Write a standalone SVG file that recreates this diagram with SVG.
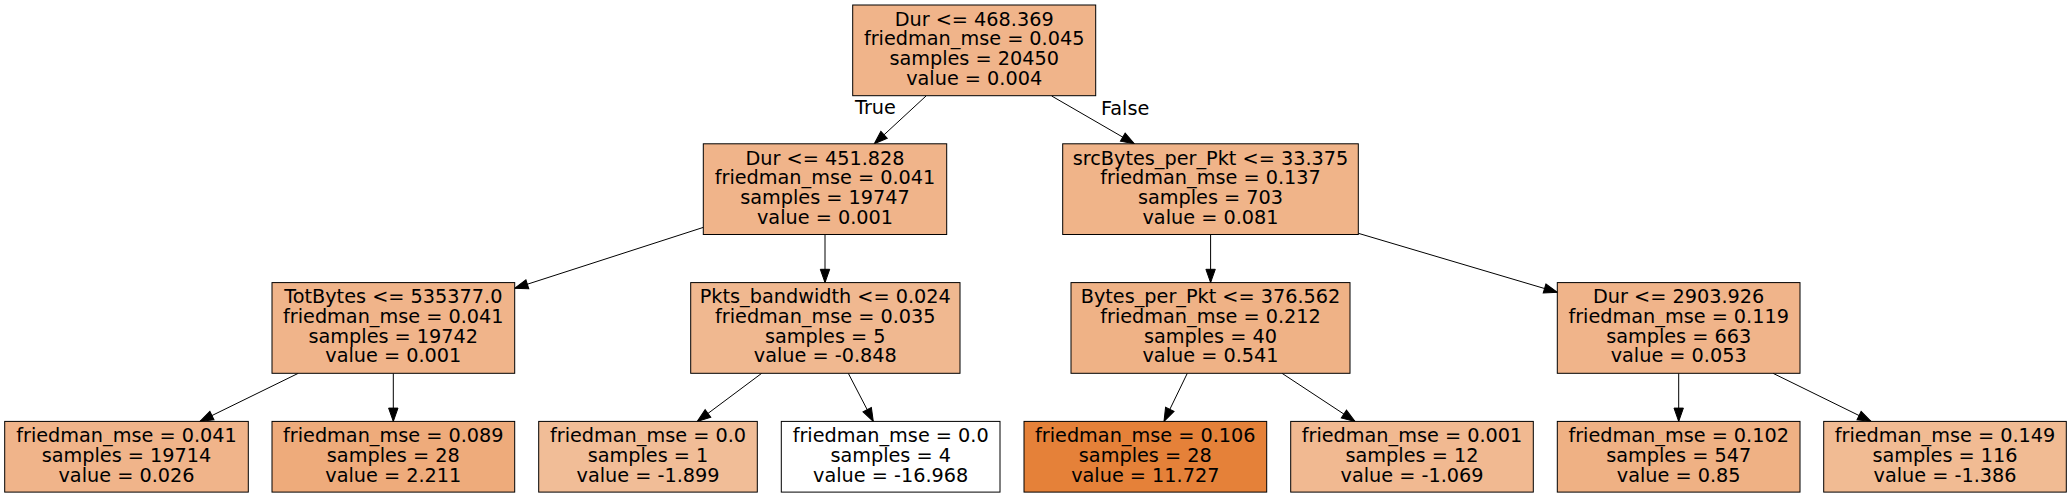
<svg xmlns="http://www.w3.org/2000/svg" width="2072" height="497" viewBox="0 0 2072 497">
<defs>
<style>
.n rect{stroke:#000;stroke-width:1}
.n text,.lbl{font-family:"DejaVu Sans","Liberation Sans",sans-serif;font-size:19.25px;fill:#000;text-anchor:middle}
.lbl{text-anchor:start}
.e line{stroke:#000;stroke-width:1;fill:none;marker-end:url(#ah)}
</style>
<marker id="ah" markerWidth="16" markerHeight="12" refX="13.3" refY="5" orient="auto" markerUnits="userSpaceOnUse" overflow="visible">
<path d="M0,0.3 L13.3,5 L0,9.7 z" fill="#000" stroke="#000" stroke-width="1"/>
</marker>
</defs>
<rect width="2072" height="497" fill="#fff"/>
<g id="edges" class="e">
<line x1="926" y1="96" x2="874.3" y2="143.8"/>
<line x1="1051.7" y1="96" x2="1134.3" y2="143.8"/>
<line x1="703.3" y1="227.4" x2="514.7" y2="288.3"/>
<line x1="825" y1="234.5" x2="825" y2="282.6"/>
<line x1="1210.6" y1="234.5" x2="1210.6" y2="282.6"/>
<line x1="1358.3" y1="233.3" x2="1557.3" y2="292.3"/>
<line x1="298.3" y1="373.3" x2="200" y2="421.4"/>
<line x1="393.3" y1="373.3" x2="393.3" y2="421.4"/>
<line x1="761.7" y1="373.3" x2="697.3" y2="421.4"/>
<line x1="848.3" y1="373.3" x2="873.3" y2="421.4"/>
<line x1="1187.3" y1="373.3" x2="1164" y2="421.4"/>
<line x1="1282" y1="373.3" x2="1355" y2="421.4"/>
<line x1="1678.7" y1="373.3" x2="1678.7" y2="421.4"/>
<line x1="1773" y1="373.3" x2="1871" y2="421.4"/>
<text class="lbl" x="855" y="114">True</text>
<text class="lbl" x="1101" y="115">False</text>
</g>
<g id="node0" class="n">
<rect x="852.7" y="5" width="243" height="90.7" fill="#f0b48a"/>
<text x="974.2" y="25.8">Dur &lt;= 468.369</text>
<text x="974.2" y="45.47">friedman_mse = 0.045</text>
<text x="974.2" y="65.13">samples = 20450</text>
<text x="974.2" y="84.8">value = 0.004</text>
</g>
<g id="node1" class="n">
<rect x="703.3" y="143.8" width="243.4" height="90.7" fill="#f0b48a"/>
<text x="825" y="164.6">Dur &lt;= 451.828</text>
<text x="825" y="184.27">friedman_mse = 0.041</text>
<text x="825" y="203.93">samples = 19747</text>
<text x="825" y="223.6">value = 0.001</text>
</g>
<g id="node2" class="n">
<rect x="272" y="282.6" width="242.7" height="90.7" fill="#f0b48a"/>
<text x="393.3" y="303.4">TotBytes &lt;= 535377.0</text>
<text x="393.3" y="323.07">friedman_mse = 0.041</text>
<text x="393.3" y="342.73">samples = 19742</text>
<text x="393.3" y="362.4">value = 0.001</text>
</g>
<g id="node3" class="n">
<rect x="4.7" y="421.4" width="243.6" height="70.7" fill="#f0b48a"/>
<text x="126.5" y="442.2">friedman_mse = 0.041</text>
<text x="126.5" y="461.87">samples = 19714</text>
<text x="126.5" y="481.53">value = 0.026</text>
</g>
<g id="node4" class="n">
<rect x="272" y="421.4" width="242.7" height="70.7" fill="#eeab7b"/>
<text x="393.3" y="442.2">friedman_mse = 0.089</text>
<text x="393.3" y="461.87">samples = 28</text>
<text x="393.3" y="481.53">value = 2.211</text>
</g>
<g id="node5" class="n">
<rect x="690.7" y="282.6" width="269.3" height="90.7" fill="#f0b890"/>
<text x="825.3" y="303.4">Pkts_bandwidth &lt;= 0.024</text>
<text x="825.3" y="323.07">friedman_mse = 0.035</text>
<text x="825.3" y="342.73">samples = 5</text>
<text x="825.3" y="362.4">value = -0.848</text>
</g>
<g id="node6" class="n">
<rect x="538.7" y="421.4" width="218.6" height="70.7" fill="#f1bd97"/>
<text x="648" y="442.2">friedman_mse = 0.0</text>
<text x="648" y="461.87">samples = 1</text>
<text x="648" y="481.53">value = -1.899</text>
</g>
<g id="node7" class="n">
<rect x="781.3" y="421.4" width="218.7" height="70.7" fill="#ffffff"/>
<text x="890.7" y="442.2">friedman_mse = 0.0</text>
<text x="890.7" y="461.87">samples = 4</text>
<text x="890.7" y="481.53">value = -16.968</text>
</g>
<g id="node8" class="n">
<rect x="1062.7" y="143.8" width="295.6" height="90.7" fill="#f0b489"/>
<text x="1210.5" y="164.6">srcBytes_per_Pkt &lt;= 33.375</text>
<text x="1210.5" y="184.27">friedman_mse = 0.137</text>
<text x="1210.5" y="203.93">samples = 703</text>
<text x="1210.5" y="223.6">value = 0.081</text>
</g>
<g id="node9" class="n">
<rect x="1071" y="282.6" width="279" height="90.7" fill="#efb286"/>
<text x="1210.5" y="303.4">Bytes_per_Pkt &lt;= 376.562</text>
<text x="1210.5" y="323.07">friedman_mse = 0.212</text>
<text x="1210.5" y="342.73">samples = 40</text>
<text x="1210.5" y="362.4">value = 0.541</text>
</g>
<g id="node10" class="n">
<rect x="1024" y="421.4" width="242.7" height="70.7" fill="#e58139"/>
<text x="1145.3" y="442.2">friedman_mse = 0.106</text>
<text x="1145.3" y="461.87">samples = 28</text>
<text x="1145.3" y="481.53">value = 11.727</text>
</g>
<g id="node11" class="n">
<rect x="1290.7" y="421.4" width="242.6" height="70.7" fill="#f1b991"/>
<text x="1412" y="442.2">friedman_mse = 0.001</text>
<text x="1412" y="461.87">samples = 12</text>
<text x="1412" y="481.53">value = -1.069</text>
</g>
<g id="node12" class="n">
<rect x="1557.3" y="282.6" width="242.7" height="90.7" fill="#f0b48a"/>
<text x="1678.7" y="303.4">Dur &lt;= 2903.926</text>
<text x="1678.7" y="323.07">friedman_mse = 0.119</text>
<text x="1678.7" y="342.73">samples = 663</text>
<text x="1678.7" y="362.4">value = 0.053</text>
</g>
<g id="node13" class="n">
<rect x="1557.3" y="421.4" width="242.7" height="70.7" fill="#efb184"/>
<text x="1678.7" y="442.2">friedman_mse = 0.102</text>
<text x="1678.7" y="461.87">samples = 547</text>
<text x="1678.7" y="481.53">value = 0.85</text>
</g>
<g id="node14" class="n">
<rect x="1823.7" y="421.4" width="242.6" height="70.7" fill="#f1bb93"/>
<text x="1945" y="442.2">friedman_mse = 0.149</text>
<text x="1945" y="461.87">samples = 116</text>
<text x="1945" y="481.53">value = -1.386</text>
</g>
</svg>
